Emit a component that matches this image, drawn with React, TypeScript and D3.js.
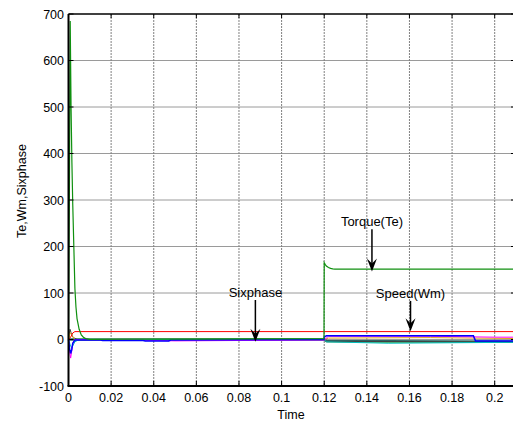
import React, { useEffect, useRef } from "react";
import * as d3 from "d3";

// time (s) and values
const torqueT = [0, 0.0004, 0.0008, 0.0012, 0.0016, 0.002, 0.0025, 0.003, 0.0035, 0.004, 0.005, 0.006, 0.007, 0.008, 0.01, 0.03, 0.06, 0.09, 0.1199, 0.12, 0.1205, 0.121, 0.122, 0.123, 0.124, 0.125, 0.13, 0.16, 0.19, 0.21];
const torqueV = [0, 300, 685, 500, 380, 290, 200, 110, 70, 45, 22, 10, 5, 2, 0, 0.5, 1, 1.5, 2, 165, 161, 158, 155, 153, 152, 151.5, 151.5, 151.5, 151.5, 151.5];

const redT = [0, 0.001, 0.002, 0.003, 0.21];
const redV = [0, 5, 14, 17, 17];

const blueT = [0, 0.0005, 0.001, 0.0015, 0.002, 0.003, 0.015, 0.016, 0.035, 0.036, 0.047, 0.048, 0.1199, 0.12, 0.121, 0.19, 0.191, 0.21];
const blueV = [0, -20, -30, -22, -8, -1, -1, -2, -2, -3, -3, -1, 0, 5, 8, 8, -3, -3];

const magentaT = [0, 0.0005, 0.001, 0.0015, 0.002, 0.003, 0.03, 0.05, 0.12, 0.122, 0.17, 0.2, 0.21];
const magentaV = [0, -25, -40, -25, -8, 0, -1, -3, -1, 7, 7, 5, 5];

const cyanT = [0, 0.0008, 0.0015, 0.003, 0.005, 0.12, 0.121, 0.14, 0.15, 0.18, 0.21];
const cyanV = [0, -12, -18, -5, 0, 0, -5, -7, -8, -7, -6];

const yellowT = [0, 0.0008, 0.0015, 0.003, 0.12, 0.122, 0.17, 0.21];
const yellowV = [0, 15, 10, 0, 0, 3, 4, 2];

const greyT = [0, 0.0007, 0.0012, 0.002, 0.004, 0.12, 0.121, 0.21];
const greyV = [0, 22, 15, 5, 0, 0, -4, -5];

const tealT = [0, 0.005, 0.12, 0.121, 0.21];
const tealV = [0, 0, 0, -3, -5];

const lgreenT = [0, 0.005, 0.12, 0.121, 0.15, 0.21];
const lgreenV = [0, 1, 1, -5, -6, -5];

const xTicks = [0, 0.02, 0.04, 0.06, 0.08, 0.1, 0.12, 0.14, 0.16, 0.18, 0.2];
const yTicks = [-100, 0, 100, 200, 300, 400, 500, 600, 700];

// annotations: label, t, text value, arrow start, arrow tip
const notes = [
  { label: "Torque(Te)", t: 0.1424, text: 244, from: 237, to: 146 },
  { label: "Speed(Wm)", t: 0.1605, text: 89, from: 83, to: 18 },
  { label: "Sixphase", t: 0.0877, text: 91, from: 85, to: -5 },
];

export default function App() {
  const svgRef = useRef(null);

  useEffect(() => {
    const width = 513;
    const height = 426;
    const svg = d3.select(svgRef.current);
    svg.selectAll("*").remove();

    const x = d3.scaleLinear().domain([0, 0.21]).range([68.5, 516]);
    const y = d3.scaleLinear().domain([-100, 700]).range([386, 14]);
    const font = "Liberation Sans, Arial, sans-serif";

    svg.append("rect").attr("width", width).attr("height", height).attr("fill", "#fff");

    // grid
    svg.append("g")
      .selectAll("line")
      .data(yTicks.slice(1, -1))
      .join("line")
      .attr("x1", x(0))
      .attr("x2", x(0.21))
      .attr("y1", (d) => y(d))
      .attr("y2", (d) => y(d))
      .attr("stroke", "#9a9a9a")
      .attr("stroke-width", 1);

    svg.append("g")
      .selectAll("line")
      .data(xTicks.slice(1))
      .join("line")
      .attr("x1", (d) => x(d))
      .attr("x2", (d) => x(d))
      .attr("y1", y(700))
      .attr("y2", y(-100))
      .attr("stroke", "#808080")
      .attr("stroke-dasharray", "2,1")
      .attr("stroke-width", 1);

    const line = d3.line().x((d) => x(d[0])).y((d) => y(d[1]));
    const series = [
      { t: tealT, v: tealV, c: "#2f6464", w: 2.5 },
      { t: lgreenT, v: lgreenV, c: "#4caf50", w: 1 },
      { t: greyT, v: greyV, c: "#404040", w: 1 },
      { t: yellowT, v: yellowV, c: "#e0a020", w: 1 },
      { t: cyanT, v: cyanV, c: "#00c0c0", w: 1 },
      { t: magentaT, v: magentaV, c: "#ff00ff", w: 1 },
      { t: blueT, v: blueV, c: "#0000ff", w: 1.5 },
      { t: redT, v: redV, c: "#ff0000", w: 1 },
      { t: torqueT, v: torqueV, c: "#109010", w: 1.2 },
    ];
    svg.append("g")
      .selectAll("path")
      .data(series)
      .join("path")
      .attr("d", (s) => line(s.t.map((t, i) => [t, s.v[i]])))
      .attr("fill", "none")
      .attr("stroke", (s) => s.c)
      .attr("stroke-width", (s) => s.w);

    // axes frame
    const frame = svg.append("g").attr("stroke", "#000");
    frame.append("line").attr("x1", x(0)).attr("x2", x(0)).attr("y1", y(700)).attr("y2", y(-100)).attr("stroke-width", 2);
    frame.append("line").attr("x1", x(0) - 1).attr("x2", x(0.21)).attr("y1", y(-100)).attr("y2", y(-100)).attr("stroke-width", 2);
    frame.append("line").attr("x1", x(0)).attr("x2", x(0.21)).attr("y1", y(700)).attr("y2", y(700)).attr("stroke-width", 1.5);

    // inward ticks
    xTicks.forEach((d) => {
      frame.append("line").attr("x1", x(d)).attr("x2", x(d)).attr("y1", y(-100)).attr("y2", y(-100) - 5);
      frame.append("line").attr("x1", x(d)).attr("x2", x(d)).attr("y1", y(700)).attr("y2", y(700) + 4);
    });
    yTicks.forEach((d) => {
      frame.append("line").attr("x1", x(0)).attr("x2", x(0) + 5).attr("y1", y(d)).attr("y2", y(d));
      frame.append("line").attr("x1", x(0.21)).attr("x2", x(0.21) - 5).attr("y1", y(d)).attr("y2", y(d));
    });

    // tick labels
    svg.append("g")
      .selectAll("text")
      .data(xTicks)
      .join("text")
      .attr("x", (d) => x(d))
      .attr("y", 402)
      .attr("text-anchor", "middle")
      .attr("font-family", font)
      .attr("font-size", 12.5)
      .text((d) => String(d));

    svg.append("g")
      .selectAll("text")
      .data(yTicks)
      .join("text")
      .attr("x", 64)
      .attr("y", (d) => y(d) + 4.5)
      .attr("text-anchor", "end")
      .attr("font-family", font)
      .attr("font-size", 12.5)
      .text((d) => String(d));

    svg.append("text")
      .attr("x", 291)
      .attr("y", 419)
      .attr("text-anchor", "middle")
      .attr("font-family", font)
      .attr("font-size", 12.5)
      .text("Time");

    svg.append("text")
      .attr("transform", "translate(26,191) rotate(-90)")
      .attr("text-anchor", "middle")
      .attr("font-family", font)
      .attr("font-size", 12.5)
      .text("Te,Wm,Sixphase");

    // annotations with arrows
    const ann = svg.append("g");
    notes.forEach((n) => {
      const ax = x(n.t);
      const tip = y(n.to);
      ann.append("text")
        .attr("x", ax)
        .attr("y", y(n.text))
        .attr("text-anchor", "middle")
        .attr("font-family", font)
        .attr("font-size", 13)
        .text(n.label);
      ann.append("line")
        .attr("x1", ax)
        .attr("x2", ax)
        .attr("y1", y(n.from))
        .attr("y2", tip - 6)
        .attr("stroke", "#000")
        .attr("stroke-width", 1.5);
      ann.append("path")
        .attr("d", `M${ax},${tip} L${ax - 5},${tip - 13} L${ax},${tip - 8} L${ax + 5},${tip - 13} Z`)
        .attr("fill", "#000");
    });
  }, []);

  return (
    <div>
      <svg ref={svgRef} width={513} height={426} style={{ position: "absolute", left: 0, top: 0 }}></svg>
    </div>
  );
}
